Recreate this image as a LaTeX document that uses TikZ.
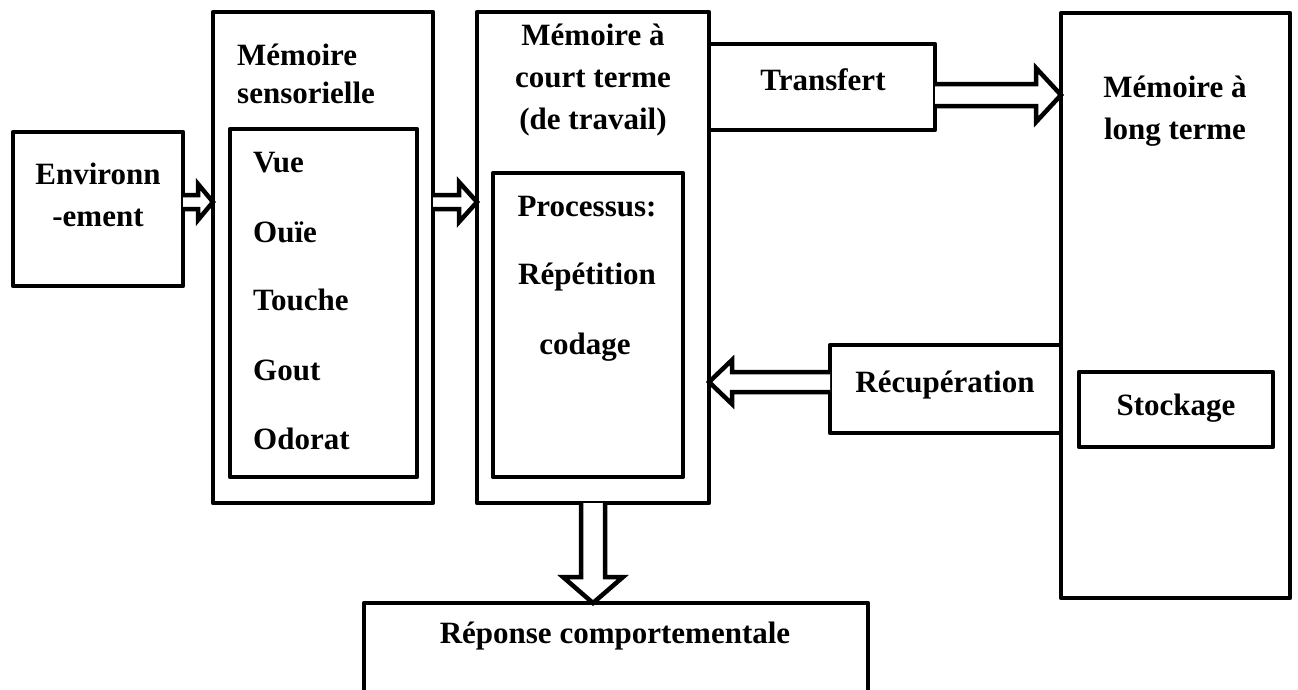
\documentclass[tikz,border=0pt]{standalone}
\usepackage{fontspec}
\setmainfont{Liberation Serif}
\usetikzlibrary{calc}
\tikzset{
  box/.style={draw, line width=4.5pt, line join=round, rectangle, inner sep=0pt,
    outer sep=0pt, anchor=north west},
  lbl/.style={font=\bfseries\fontsize{31}{42}\selectfont, inner sep=0pt},
  harrow/.style={draw, line width=4.5pt, line join=miter, miter limit=4, fill=white},
}
% hollow block arrow: #1 start, #2 tip, #3 shaft half-width, #4 head half-width, #5 head length
\newcommand\blockarrow[5]{%
  \coordinate (ba-b) at ($(#2)!#5!(#1)$);
  \draw[harrow] ($(#1)!#3!90:(#2)$) -- ($(ba-b)!#3!90:(#2)$) -- ($(ba-b)!#4!90:(#2)$)
    -- (#2) -- ($(ba-b)!#4!-90:(#2)$) -- ($(ba-b)!#3!-90:(#2)$) -- ($(#1)!#3!-90:(#2)$);
}
\begin{document}
\begin{tikzpicture}[x=1pt, y=-1pt]
\useasboundingbox (0,0) rectangle (1298,689);

% boxes
\node[box, minimum width=170pt, minimum height=154pt] (env) at (13,132) {};
\node[box, minimum width=220pt, minimum height=491pt] (sens) at (213,12) {};
\node[box, minimum width=187pt, minimum height=348pt] (sensin) at (230,129) {};
\node[box, minimum width=232pt, minimum height=491pt] (mct) at (477,12) {};
\node[box, minimum width=190pt, minimum height=304pt] (mctin) at (493,173) {};
\node[box, minimum width=226pt, minimum height=86pt] (trans) at (709,44) {};
\node[box, minimum width=229pt, minimum height=585pt] (mlt) at (1061,13) {};
\node[box, minimum width=231pt, minimum height=88pt] (recup) at (830,345) {};
\node[box, minimum width=194pt, minimum height=75pt] (stock) at (1079,372) {};
\node[box, minimum width=504pt, minimum height=90pt] (rep) at (364,603) {};

% texts
\node[lbl, align=center] (tenv) at (98,195) {Environn\\-ement};
\node[lbl, align=left, anchor=west, font=\bfseries\fontsize{31}{38}\selectfont] (tsens) at (237,74) {Mémoire\\sensorielle};
\node[lbl, anchor=west] (tvue) at (253,163) {Vue};
\node[lbl, anchor=west] (touie) at (253,232) {Ouïe};
\node[lbl, anchor=west] (ttouche) at (253,300) {Touche};
\node[lbl, anchor=west] (tgout) at (253,370) {Gout};
\node[lbl, anchor=west] (todorat) at (253,439) {Odorat};
\node[lbl, align=center] (tmct) at (593,80) {Mémoire à\\court terme\\(de travail)};
\node[lbl] (tproc) at (587,207) {Processus:};
\node[lbl] (trep) at (587,277) {Répétition};
\node[lbl] (tcod) at (585,347) {codage};
\node[lbl] (ttrans) at (823,80) {Transfert};
\node[lbl, align=center] (tmlt) at (1175,111) {Mémoire à\\long terme};
\node[lbl] (trecup) at (945,385) {Récupération};
\node[lbl] (tstock) at (1176,408) {Stockage};
\node[lbl] (tresp) at (615,636) {Réponse comportementale};

% arrow end points
\coordinate (a1s) at (env.east |- 0,202);
\coordinate (a1t) at (sens.west |- 0,202);
\coordinate (a2s) at (sens.east |- 0,202);
\coordinate (a2t) at (mct.west |- 0,202);
\coordinate (a3s) at (trans.east |- 0,95);
\coordinate (a3t) at (mlt.west |- 0,95);
\coordinate (a4s) at (recup.west |- 0,382);
\coordinate (a4t) at (mct.east |- 0,382);
\coordinate (a5s) at (593,0 |- mct.south);
\coordinate (a5t) at (593,0 |- rep.north);

\blockarrow{a1s}{a1t}{7pt}{18pt}{15pt}
\blockarrow{a2s}{a2t}{7pt}{20pt}{18pt}
\blockarrow{a3s}{a3t}{11pt}{27pt}{25pt}
\blockarrow{a4s}{a4t}{10pt}{22pt}{23pt}
\blockarrow{a5s}{a5t}{12pt}{30pt}{26pt}
\end{tikzpicture}
\end{document}
